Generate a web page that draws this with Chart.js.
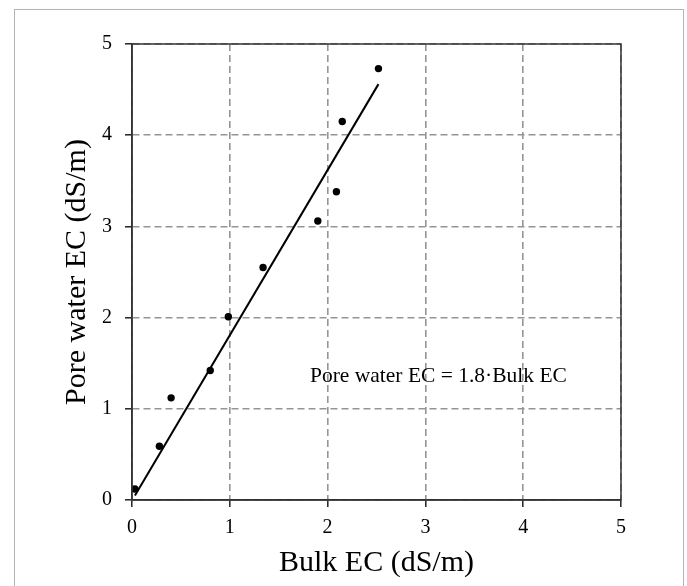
<!DOCTYPE html>
<html>
<head>
<meta charset="utf-8">
<script src="https://cdn.jsdelivr.net/npm/chart.js@4.4.1/dist/chart.umd.min.js"></script>
<style>
  html, body { margin: 0; padding: 0; background: #fff; overflow: hidden; }
  #frame { position: absolute; left: 14px; top: 9px; width: 670px; height: 620px; box-sizing: border-box; border: 1.5px solid #b4b4b4; }
  #wrap { position: absolute; left: 0; top: 0; width: 687px; height: 586px; }
</style>
</head>
<body>
<div id="frame"></div>
<div id="wrap"><canvas id="c" width="687" height="586"></canvas></div>
<script>
// ---- data ----
const bulkEC = [0.03, 0.28, 0.40, 0.80, 0.985, 1.34, 1.90, 2.09, 2.15, 2.52];
const poreEC = [0.12, 0.59, 1.12, 1.42, 2.01, 2.55, 3.06, 3.38, 4.15, 4.73];
const fitX = [0.03, 2.52];
const fitY = [0.05, 4.56];
const xTicks = [0, 1, 2, 3, 4, 5];
const yTicks = [0, 1, 2, 3, 4, 5];
const xTitle = 'Bulk EC (dS/m)';
const yTitle = 'Pore water EC (dS/m)';
const equationText = 'Pore water EC = 1.8\u00B7Bulk EC';
const equationAt = [1.82, 1.29];

const FONT = '"Liberation Serif", "Times New Roman", serif';

const framePlugin = {
  id: 'framePlugin',
  afterDatasetsDraw(chart) {
    const { ctx, chartArea: a, scales } = chart;
    ctx.save();
    ctx.strokeStyle = '#333';
    ctx.lineWidth = 1.5;
    ctx.strokeRect(a.left, a.top, a.right - a.left, a.bottom - a.top);
    ctx.fillStyle = '#000';
    ctx.font = '21.5px ' + FONT;
    ctx.textAlign = 'left';
    ctx.textBaseline = 'alphabetic';
    ctx.fillText(equationText,
      scales.x.getPixelForValue(equationAt[0]),
      scales.y.getPixelForValue(equationAt[1]));
    ctx.restore();
  }
};

const pointsData = bulkEC.map((x, i) => ({ x: x, y: poreEC[i] }));
const fitData = fitX.map((x, i) => ({ x: x, y: fitY[i] }));

new Chart(document.getElementById('c'), {
  type: 'scatter',
  data: {
    datasets: [
      {
        label: 'Measured',
        data: pointsData,
        backgroundColor: '#000',
        borderColor: '#000',
        pointRadius: 3.7,
        pointHoverRadius: 3.7,
        borderWidth: 0
      },
      {
        label: 'Fit',
        type: 'line',
        data: fitData,
        showLine: true,
        borderColor: '#000',
        borderWidth: 2,
        pointRadius: 0,
        fill: false,
        tension: 0
      }
    ]
  },
  options: {
    responsive: false,
    animation: false,
    events: [],
    layout: { padding: { left: 0, right: 66, top: 44, bottom: 0 } },
    plugins: { legend: { display: false }, tooltip: { enabled: false } },
    scales: {
      x: {
        type: 'linear',
        min: 0, max: 5,
        afterFit(s) { s.height = 86; },
        afterBuildTicks(s) { s.ticks = xTicks.map(v => ({ value: v })); },
        ticks: { color: '#000', font: { family: FONT, size: 20 }, padding: 9, maxRotation: 0 },
        grid: { color: '#959595', lineWidth: 1.6, tickLength: 7, tickColor: '#222', tickWidth: 1.5, tickBorderDash: [] },
        border: { display: true, color: '#333', width: 1.5, dash: [7, 4] },
        title: { display: true, text: xTitle, color: '#000', font: { family: FONT, size: 30 }, padding: { top: 0, bottom: 5 } }
      },
      y: {
        type: 'linear',
        min: 0, max: 5,
        afterFit(s) { s.width = 132; },
        afterBuildTicks(s) { s.ticks = yTicks.map(v => ({ value: v })); },
        ticks: { color: '#000', font: { family: FONT, size: 20 }, padding: 13 },
        grid: { color: '#959595', lineWidth: 1.6, tickLength: 7, tickColor: '#222', tickWidth: 1.5, tickBorderDash: [] },
        border: { display: true, color: '#333', width: 1.5, dash: [7, 4] },
        title: { display: true, text: yTitle, color: '#000', font: { family: FONT, size: 30 }, padding: { top: 59, bottom: 0 } }
      }
    }
  },
  plugins: [framePlugin]
});
</script>
</body>
</html>
